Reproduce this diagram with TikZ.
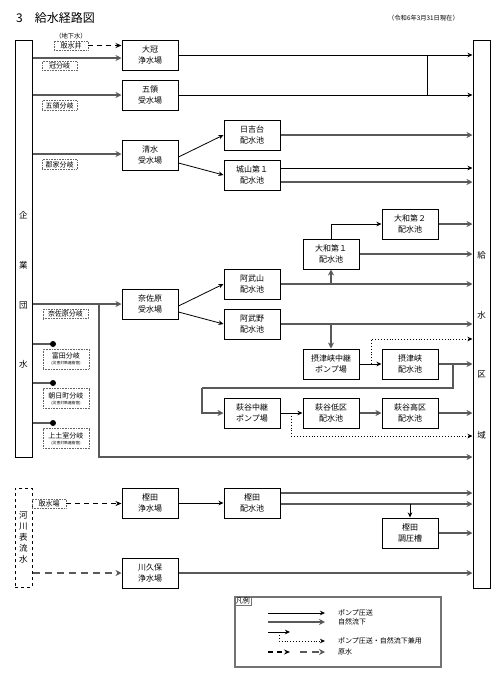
\documentclass[tikz,border=0pt]{standalone}
\usepackage{fontspec}
\setmainfont{Noto Sans CJK JP}
\usepackage{tikz}
\usetikzlibrary{arrows.meta,positioning}

\begin{document}
\begin{tikzpicture}[x=1pt, y=-1pt,
        box/.style={rectangle, draw=black, line width=1pt, minimum width=56pt, minimum height=30pt, align=center, inner sep=0pt, font=\fontsize{8}{10.5}\selectfont},
        branch/.style={rectangle, draw=black!60, densely dotted, line width=0.6pt, minimum height=9.5pt, inner sep=1pt, align=center, font=\fontsize{7}{8}\selectfont},
        column/.style={rectangle, draw=black, line width=1pt, minimum width=17pt},
        colchar/.style={font=\fontsize{8.5}{8.5}\selectfont, inner sep=0pt},
        pump/.style={-{Stealth[length=5pt, width=4.5pt, inset=1.5pt]}, line width=0.8pt},
        pumpline/.style={line width=0.8pt},
        grav/.style={-{Stealth[length=6pt, width=6pt, inset=2pt]}, line width=1.8pt, draw=black!65},
        gravline/.style={line width=1.8pt, draw=black!65},
        both/.style={-{Stealth[length=5pt, width=4.5pt, inset=1.5pt]}, line width=0.9pt, dotted},
        rawpump/.style={-{Stealth[length=6pt, width=5pt, inset=2pt]}, line width=1.1pt, dash pattern=on 5pt off 4pt},
        rawgrav/.style={-{Stealth[length=6pt, width=6pt, inset=2pt]}, line width=1.8pt, draw=black!65, dash pattern=on 7pt off 5pt},
        note/.style={font=\fontsize{7}{8}\selectfont, inner sep=0pt, anchor=west}
    ]
    \useasboundingbox (0,0) rectangle (500,681);

    % Title
    \node[anchor=west, inner sep=0pt, font=\fontsize{12}{12}\selectfont] (title) at (16,18) {3\quad 給水経路図};
    \node[anchor=east, inner sep=0pt, font=\fontsize{6.3}{7}\selectfont] (date) at (459,18) {（令和6年3月31日現在）};

    % Sources and supply area (columns)
    \node[column, minimum height=417pt] (src) at (23.5,248.5) {};
    \foreach \ch/\yy in {企/215, 業/265, 団/305, 水/364}
        \node[colchar] (src-\yy) at (23.5,\yy) {\ch};
    \node[column, dashed, minimum height=99pt, align=center, inner sep=0pt, font=\fontsize{8.5}{11}\selectfont] (river) at (23.5,537.5) {河\\川\\表\\流\\水};
    \node[column, minimum height=548pt] (dest) at (481.5,314) {};
    \foreach \ch/\yy in {給/255, 水/315, 区/375, 域/435}
        \node[colchar] (dest-\yy) at (481.5,\yy) {\ch};

    % Branch labels
    \node[font=\fontsize{6.3}{6.3}\selectfont, inner sep=0pt] (ground) at (71,36) {（地下水）};
    \node[branch, minimum width=34pt, minimum height=9pt] (well) at (71,45.5) {取水井};
    \node[branch, minimum width=35pt] (kanbr) at (59.5,66) {冠分岐};
    \node[branch, minimum width=35pt] (goryobr) at (59.5,105.5) {五領分岐};
    \node[branch, minimum width=35pt] (gunkebr) at (59.5,164.5) {郡家分岐};
    \node[branch, minimum width=45pt] (nasabr) at (65.5,314) {奈佐原分岐};
    \node[branch, minimum width=46pt, minimum height=20pt] (tondabr) at (66,359) {富田分岐\\[-2pt]{\fontsize{3.8}{4.2}\selectfont (災害対策連絡管)}};
    \node[branch, minimum width=46pt, minimum height=20pt] (asahibr) at (66,398.5) {朝日町分岐\\[-2pt]{\fontsize{3.8}{4.2}\selectfont (災害対策連絡管)}};
    \node[branch, minimum width=46pt, minimum height=20pt] (kamihabr) at (66,438.5) {上土室分岐\\[-2pt]{\fontsize{3.8}{4.2}\selectfont (災害対策連絡管)}};
    \node[branch, minimum width=34pt, minimum height=9pt] (intake) at (49,503.5) {取水場};

    % Facilities
    \node[box] (oukan) at (150,55) {大冠\\浄水場};
    \node[box] (goryo) at (150,95) {五領\\受水場};
    \node[box] (shimizu) at (150,155) {清水\\受水場};
    \node[box] (hiyoshi) at (252,135) {日吉台\\配水池};
    \node[box] (shiroyama) at (252,175) {城山第１\\配水池};
    \node[box] (nasahara) at (150,304) {奈佐原\\受水場};
    \node[box] (abuyama) at (252,284) {阿武山\\配水池};
    \node[box] (abuno) at (252,324) {阿武野\\配水池};
    \node[box] (yamato1) at (331,254) {大和第１\\配水池};
    \node[box] (yamato2) at (410,224) {大和第２\\配水池};
    \node[box] (settsupump) at (331,364) {摂津峡中継\\ポンプ場};
    \node[box] (settsu) at (410,364) {摂津峡\\配水池};
    \node[box] (hagipump) at (252,413) {萩谷中継\\ポンプ場};
    \node[box] (hagilow) at (331,413) {萩谷低区\\配水池};
    \node[box] (hagihigh) at (410,413) {萩谷高区\\配水池};
    \node[box] (kashidajo) at (150,503) {樫田\\浄水場};
    \node[box] (kashidahai) at (252,503) {樫田\\配水池};
    \node[box] (choatsu) at (410,533) {樫田\\調圧槽};
    \node[box] (kawakubo) at (150,573) {川久保\\浄水場};

    % Junctions
    \coordinate (oukanjct) at (427,55);
    \coordinate (nasajct) at (99,304);
    \coordinate (nasaend) at (99,457);
    \coordinate (yamatojct) at (331,284);
    \coordinate (settsujct) at (331,324);
    \coordinate (settsudot) at (371,364);
    \coordinate (settsuout) at (453,364);
    \coordinate (hagiturn) at (202,388);
    \coordinate (hagidot) at (291,413);
    \coordinate (kashidajct) at (410,504);
    \coordinate (tondadot) at (53,344);
    \coordinate (asahidot) at (53,383);
    \coordinate (kamihadot) at (53,423);

    % From the kigyodan column
    \draw[rawpump] (well.east) -- (oukan.west |- well.east);
    \draw[grav] (src.east |- 0,58) -- (oukan.west |- 0,58);
    \draw[grav] (src.east |- goryo.west) -- (goryo.west);
    \draw[grav] (src.east |- 0,154) -- (shimizu.west |- 0,154);
    \draw[grav] (src.east |- nasahara.west) -- (nasahara.west);
    \draw[grav] (nasajct) -- (nasaend) -- (dest.west |- nasaend);
    \foreach \dot in {tondadot, asahidot, kamihadot} {
        \draw[gravline] (src.east |- \dot) -- (\dot);
        \fill (\dot) circle (3pt);
    }

    % Oukan and Goryo
    \draw[pump] (oukan.east) -- (dest.west |- oukan.east);
    \draw[pump] (goryo.east) -- (dest.west |- goryo.east);
    \draw[pumpline] (oukanjct) -- (oukanjct |- goryo.east);

    % Shimizu
    \draw[pump] ([yshift=-2pt]shimizu.east) -- (hiyoshi.west);
    \draw[pump] ([yshift=-8pt]shimizu.east) -- (shiroyama.west);
    \draw[grav] (hiyoshi.east) -- (dest.west |- hiyoshi.east);
    \draw[pump] (shiroyama.east |- 0,168) -- (dest.west |- 0,168);
    \draw[grav] (shiroyama.east |- 0,182) -- (dest.west |- 0,182);

    % Nasahara
    \draw[pump] ([yshift=-2pt]nasahara.east) -- (abuyama.west);
    \draw[pump] ([yshift=-8pt]nasahara.east) -- (abuno.west);
    \draw[grav] (abuyama.east) -- (dest.west |- abuyama.east);
    \draw[grav] (yamatojct) -- (yamato1.south);
    \draw[grav] (yamato1.east) -- (dest.west |- yamato1.east);
    \draw[pump] (yamato1.north) |- (yamato2.west);
    \draw[grav] (yamato2.east) -- (dest.west |- yamato2.east);
    \draw[grav] (abuno.east) -- (dest.west |- abuno.east);
    \draw[grav] (settsujct) -- (settsupump.north);

    % Settsukyo
    \draw[pump] (settsupump.east) -- (settsu.west);
    \draw[both] (settsudot) |- (dest.west |- 0,339);
    \draw[grav] (settsu.east) -- (dest.west |- settsu.east);
    \draw[gravline] (settsuout) |- (hagiturn);
    \draw[grav] (hagiturn) |- (hagipump.west);

    % Hagitani
    \draw[pump] (hagipump.east) -- (hagilow.west);
    \draw[both] (hagidot) |- (dest.west |- 0,436);
    \draw[grav] (hagilow.east) -- (hagihigh.west);
    \draw[grav] (hagihigh.east) -- (dest.west |- hagihigh.east);

    % Kashida
    \draw[rawpump] (intake.east) -- (kashidajo.west |- intake.east);
    \draw[pump] (kashidajo.east) -- (kashidahai.west);
    \draw[grav] (kashidahai.east |- 0,493) -- (dest.west |- 0,493);
    \draw[grav] (kashidahai.east |- kashidajct) -- (dest.west |- kashidajct);
    \draw[pump] (kashidajct) -- (choatsu.north);
    \draw[grav] (choatsu.east) -- (dest.west |- choatsu.east);

    % Kawakubo
    \draw[rawgrav] (river.east |- kawakubo.west) -- (kawakubo.west);
    \draw[grav] (kawakubo.east) -- (dest.west |- kawakubo.east);

    % Legend
    \node[rectangle, draw=black!55, line width=1.5pt, minimum width=206pt, minimum height=70pt] (legend) at (338,632) {};
    \node[rectangle, draw=black!55, line width=0.8pt, anchor=north west, inner sep=1.2pt, font=\fontsize{7}{8}\selectfont] (legendtitle) at (legend.north west) {凡例};
    \coordinate (lgpa) at (268,613);
    \coordinate (lgpb) at (325,613);
    \coordinate (lgga) at (268,622);
    \coordinate (lggb) at (325,622);
    \coordinate (lgba) at (268,632);
    \coordinate (lgbb) at (290,632);
    \coordinate (lgbd) at (279,632);
    \coordinate (lgbe) at (325,641);
    \coordinate (lgra) at (268,652);
    \coordinate (lgrb) at (290,652);
    \coordinate (lgrc) at (300,652);
    \coordinate (lgrd) at (325,652);
    \draw[pump] (lgpa) -- (lgpb);
    \draw[grav] (lgga) -- (lggb);
    \draw[pump] (lgba) -- (lgbb);
    \draw[both] (lgbd) |- (lgbe);
    \draw[rawpump] (lgra) -- (lgrb);
    \draw[rawgrav] (lgrc) -- (lgrd);
    \node[note] (lgptext) at (338,613) {ポンプ圧送};
    \node[note] (lggtext) at (338,622) {自然流下};
    \node[note] (lgbtext) at (338,641) {ポンプ圧送・自然流下兼用};
    \node[note] (lgrtext) at (338,652) {原水};

\end{tikzpicture}
\end{document}
